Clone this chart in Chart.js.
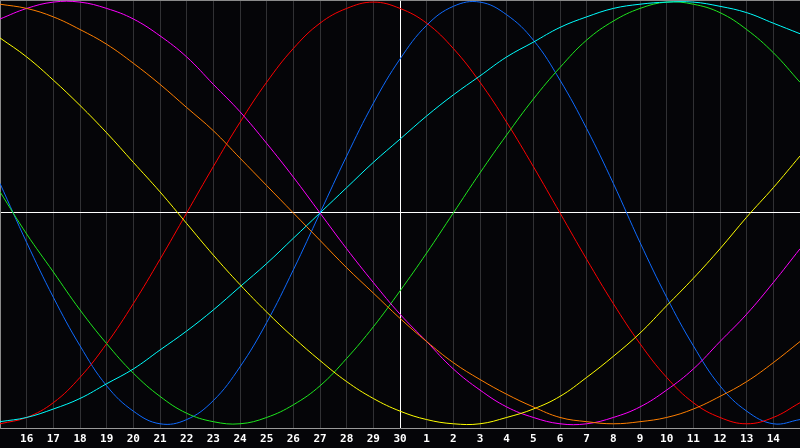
<!DOCTYPE html>
<html>
<head>
<meta charset="utf-8">
<script src="https://cdn.jsdelivr.net/npm/chart.js@4/dist/chart.umd.min.js"></script>
<style>
  html, body { margin: 0; padding: 0; background: #050508; }
  #wrap { width: 800px; height: 448px; }
</style>
</head>
<body>
<div id="wrap"><canvas id="bioChart" width="800" height="448"></canvas></div>
<script>
// ==================== DATA ====================
// days shown: 15th of last month .. 15th of this month (today = 30)
const dayLabels = ["15","16","17","18","19","20","21","22","23","24","25","26","27","28","29","30",
  "1","2","3","4","5","6","7","8","9","10","11","12","13","14","15"];

const physical = [0.14,-0.14,-0.40,-0.63,-0.82,-0.94,-1.00,-0.98,-0.89,-0.73,-0.52,-0.27,0,0.27,0.52,0.73,
  0.89,0.98,1.00,0.94,0.82,0.63,0.40,0.14,-0.14,-0.40,-0.63,-0.82,-0.94,-1.00,-0.98];
const emotional = [-1.00,-0.97,-0.90,-0.78,-0.62,-0.43,-0.22,0,0.22,0.43,0.62,0.78,0.90,0.97,1.00,0.97,
  0.90,0.78,0.62,0.43,0.22,0,-0.22,-0.43,-0.62,-0.78,-0.90,-0.97,-1.00,-0.97,-0.90];
const intellectual = [0.10,-0.10,-0.28,-0.46,-0.62,-0.76,-0.87,-0.95,-0.99,-1.00,-0.97,-0.91,-0.82,-0.69,-0.54,-0.37,
  -0.19,0,0.19,0.37,0.54,0.69,0.82,0.91,0.97,1.00,0.99,0.95,0.87,0.76,0.62];
const intuitive = [0.92,0.97,1.00,1.00,0.97,0.92,0.84,0.74,0.61,0.48,0.33,0.17,0,-0.17,-0.33,-0.48,
  -0.61,-0.74,-0.84,-0.92,-0.97,-1.00,-1.00,-0.97,-0.92,-0.84,-0.74,-0.61,-0.48,-0.33,-0.17];
const aesthetic = [0.83,0.74,0.63,0.51,0.38,0.24,0.10,-0.05,-0.20,-0.34,-0.47,-0.59,-0.70,-0.80,-0.88,-0.94,
  -0.98,-1.00,-1.00,-0.97,-0.93,-0.87,-0.78,-0.68,-0.57,-0.44,-0.31,-0.17,-0.02,0.12,0.27];
const awareness = [0.99,0.97,0.93,0.87,0.80,0.71,0.61,0.50,0.39,0.26,0.13,0,-0.13,-0.26,-0.38,-0.50,
  -0.61,-0.71,-0.79,-0.86,-0.92,-0.97,-0.99,-1.00,-0.99,-0.97,-0.93,-0.87,-0.80,-0.71,-0.61];
const spiritual = [-0.99,-0.97,-0.93,-0.88,-0.81,-0.74,-0.65,-0.56,-0.46,-0.35,-0.24,-0.12,0,0.12,0.24,0.35,
  0.46,0.56,0.65,0.74,0.81,0.88,0.93,0.97,0.99,1.00,1.00,0.98,0.95,0.90,0.85];

const todayIndex = 15;
const yMin = -1.02;
const yMax = 1.01;

// ==================== CHART ====================
function line(data, color) {
  return {
    data: data,
    borderColor: color,
    borderWidth: 1,
    pointRadius: 0,
    pointHoverRadius: 0,
    tension: 0.4,
    fill: false
  };
}

const ctx = document.getElementById("bioChart").getContext("2d");
new Chart(ctx, {
  type: "line",
  data: {
    labels: dayLabels,
    datasets: [
      line(awareness, "#ff7f00"),
      line(aesthetic, "#ffff00"),
      line(intuitive, "#ff00ff"),
      line(spiritual, "#00ffff"),
      line(intellectual, "#1ee81e"),
      line(emotional, "#ff0000"),
      line(physical, "#0f6bff")
    ]
  },
  options: {
    responsive: false,
    animation: false,
    devicePixelRatio: 1,
    layout: { autoPadding: false, padding: 0 },
    plugins: {
      legend: { display: false },
      tooltip: { enabled: false }
    },
    scales: {
      x: {
        offset: false,
        afterFit: s => {
          // no edge padding: plot runs to both sides of the window
          s.paddingLeft = 0;
          s.paddingRight = 0;
          s.height = 20;
        },
        grid: {
          drawTicks: false,
          color: c => c.index === todayIndex ? "#ffffff" : (c.index === 0 || c.index === dayLabels.length - 1 ? "rgba(0,0,0,0)" : "#313134")
        },
        border: { color: "#9a9a9a" },
        ticks: {
          autoSkip: false,
          maxRotation: 0,
          padding: 5,
          color: "#ffffff",
          font: { family: "DejaVu Sans Mono", size: 11, weight: "bold" },
          callback: (v, i) => (i === 0 || i === dayLabels.length - 1) ? "" : dayLabels[i]
        }
      },
      y: {
        min: yMin,
        max: yMax,
        afterFit: s => { s.width = 0; },
        afterBuildTicks: s => { s.ticks = [{ value: yMin }, { value: 0 }, { value: yMax }]; },
        grid: {
          drawTicks: false,
          color: c => c.tick.value === 0 ? "#ffffff" : (c.tick.value > 0 ? "#8a8a8a" : "rgba(0,0,0,0)")
        },
        border: { color: "#8a8a8a" },
        ticks: { display: false }
      }
    }
  }
});
</script>
</body>
</html>
